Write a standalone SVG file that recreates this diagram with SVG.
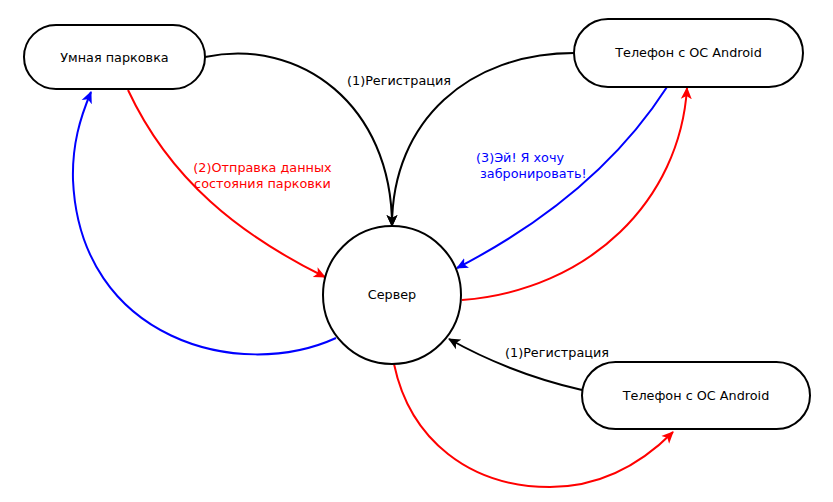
<svg xmlns="http://www.w3.org/2000/svg" width="833" height="502" viewBox="0 0 833 502">
<style>
.node{fill:#fff;stroke:#000;stroke-width:2}
.lbl{font-family:"DejaVu Sans",sans-serif;font-size:12.8px;fill:#000}
.edge{fill:none;stroke-width:2}
.k{stroke:#000}.r{stroke:#f00}.b{stroke:#00f}
</style>
<defs>
<marker id="ak" viewBox="0 0 12 12" refX="11" refY="6" markerWidth="12" markerHeight="12" markerUnits="userSpaceOnUse" orient="auto"><path d="M0,0.5 L12,6 L0,11.5 L3,6 z" fill="#000"/></marker>
<marker id="ar" viewBox="0 0 12 12" refX="11" refY="6" markerWidth="12" markerHeight="12" markerUnits="userSpaceOnUse" orient="auto"><path d="M0,0.5 L12,6 L0,11.5 L3,6 z" fill="#f00"/></marker>
<marker id="ab" viewBox="0 0 12 12" refX="11" refY="6" markerWidth="12" markerHeight="12" markerUnits="userSpaceOnUse" orient="auto"><path d="M0,0.5 L12,6 L0,11.5 L3,6 z" fill="#00f"/></marker>
</defs>
<rect width="833" height="502" fill="#fff"/>
<g id="connectors">
<path class="edge k" d="M205,57 C300,37 392,105 392,226" marker-end="url(#ak)"/>
<path class="edge k" d="M574,53 C470,53 392,120 392,226" marker-end="url(#ak)"/>
<path class="edge r" d="M128,90 C170,180 240,235 325,277" marker-end="url(#ar)"/>
<path class="edge b" d="M336,338 C240,382 80,340 73,180 C72,145 80,118 91,92" marker-end="url(#ab)"/>
<path class="edge b" d="M667,87 C620,160 550,220 457,268" marker-end="url(#ab)"/>
<path class="edge r" d="M462,300 C590,290 680,200 687,88" marker-end="url(#ar)"/>
<path class="edge k" d="M582,390 C530,378 490,362 449,339" marker-end="url(#ak)"/>
<path class="edge r" d="M394,364 C410,440 470,487 550,487 C600,487 640,465 673,432" marker-end="url(#ar)"/>
<text class="lbl" x="399" y="85" text-anchor="middle">(1)Регистрация</text>
<text class="lbl" x="262.5" y="172" text-anchor="middle" style="fill:#f00">(2)Отправка данных</text>
<text class="lbl" x="262.5" y="188" text-anchor="middle" style="fill:#f00">состояния парковки</text>
<text class="lbl" x="476" y="162" style="fill:#00f">(3)Эй! Я хочу</text>
<text class="lbl" x="476" y="178" style="fill:#00f" xml:space="preserve"> забронировать!</text>
<text class="lbl" x="557" y="357" text-anchor="middle">(1)Регистрация</text>
</g>
<g id="parking">
<rect class="node" x="24" y="25" width="181" height="64" rx="32"/>
<text class="lbl" x="114.5" y="62" text-anchor="middle">Умная парковка</text>
</g>
<g id="phone1">
<rect class="node" x="574" y="19" width="229" height="68" rx="34"/>
<text class="lbl" x="688.5" y="57" text-anchor="middle">Телефон с ОС Android</text>
</g>
<g id="server">
<circle class="node" cx="392" cy="295" r="69"/>
<text class="lbl" x="392" y="299" text-anchor="middle">Сервер</text>
</g>
<g id="phone2">
<rect class="node" x="582" y="362" width="228" height="67" rx="33.5"/>
<text class="lbl" x="696" y="400" text-anchor="middle">Телефон с ОС Android</text>
</g>
</svg>
